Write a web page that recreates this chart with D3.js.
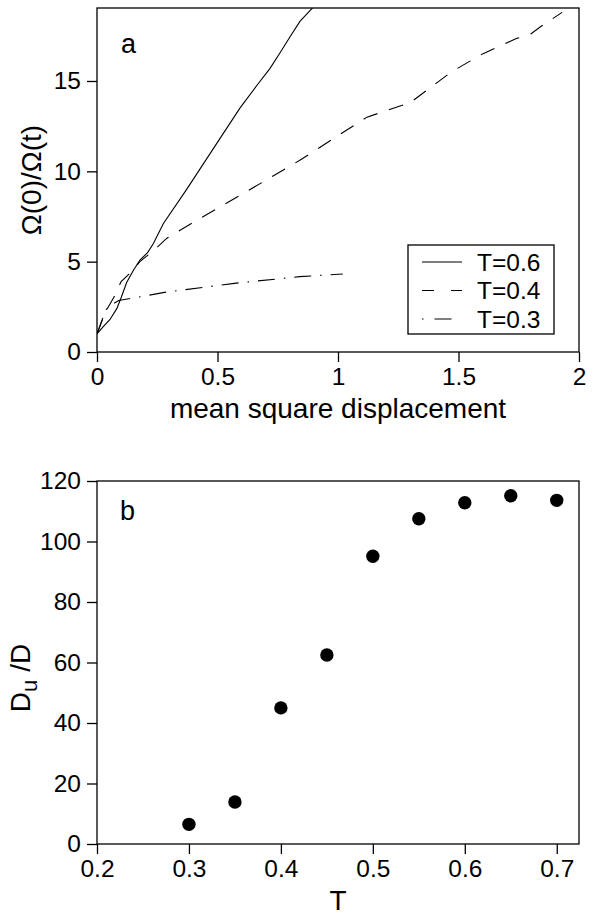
<!DOCTYPE html>
<html><head><meta charset="utf-8">
<script src="https://cdn.jsdelivr.net/npm/d3@7"></script>
<style>
html,body{margin:0;padding:0;background:#fff;}
text{font-family:"Liberation Sans",Arial,Helvetica,sans-serif;fill:#000;}
</style></head>
<body>
<svg id="c" width="600" height="917"></svg>
<script>
// ---- data: panel a ----
const seriesA = ["T=0.6", "T=0.4", "T=0.3"];
const msd06 = [0,0.026,0.054,0.082,0.10,0.123,0.15,0.178,0.21,0.234,0.275,0.372,0.497,0.593,0.663,0.718,0.759,0.801,0.842,0.898];
const om06  = [1,1.4,1.8,2.4,3.0,3.85,4.5,5.09,5.5,6.0,7.1,9.0,11.55,13.5,14.75,15.7,16.55,17.45,18.3,19.1];
const msd04 = [0,0.03,0.075,0.10,0.144,0.178,0.234,0.29,0.39,0.5,0.7,0.84,0.98,1.12,1.3,1.4,1.47,1.6,1.74,1.8,1.84,1.93];
const om04  = [1,2.1,3.15,3.9,4.45,5.0,5.6,6.3,7.1,7.95,9.5,10.6,11.8,13.0,13.8,14.8,15.5,16.5,17.35,17.6,18.0,18.8];
const msd03 = [0,0.02,0.033,0.06,0.09,0.18,0.28,0.57,0.84,1.02];
const om03  = [1,1.7,2.3,2.6,2.85,3.06,3.3,3.8,4.17,4.32];
const xTicksA = [0,0.5,1,1.5,2];
const yTicksA = [0,5,10,15];
// ---- data: panel b ----
const temps = [0.3,0.35,0.4,0.45,0.5,0.55,0.6,0.65,0.7];
const ratio = [6.5,13.9,45,62.5,95.1,107.5,112.8,115.1,113.6];
const xTicksB = [0.2,0.3,0.4,0.5,0.6,0.7];
const yTicksB = [0,20,40,60,80,100,120];

const svg = d3.select("#c");
const L = 97, R = 579;
const tickFont = 24.5, labFont = 28;

function frame(g, x, y, top, bottom, xt, yt, xfmt) {
  const xa = g.append("g").attr("transform", `translate(0,${bottom})`)
    .call(d3.axisBottom(x).tickValues(xt).tickSize(10).tickPadding(6).tickFormat(xfmt));
  const ya = g.append("g").attr("transform", `translate(${L},0)`)
    .call(d3.axisLeft(y).tickValues(yt).tickSize(10).tickPadding(6).tickFormat(d3.format("d")));
  [xa, ya].forEach(a => {
    a.select(".domain").remove();
    a.selectAll("line").attr("stroke", "#000").attr("stroke-width", 1.3);
    a.selectAll("text").attr("font-size", tickFont).attr("font-family", '"Liberation Sans",Arial,sans-serif').attr("fill", "#000");
  });
  g.append("rect").attr("x", L).attr("y", top).attr("width", R - L).attr("height", bottom - top)
    .attr("fill", "none").attr("stroke", "#000").attr("stroke-width", 1.3);
}

// ---- panel a ----
const topA = 8, botA = 352;
const xA = d3.scaleLinear().domain([0, 2]).range([L, R]);
const yA = d3.scaleLinear().domain([0, 19.04]).range([botA, topA]);
const gA = svg.append("g");
svg.append("defs").append("clipPath").attr("id", "clipA")
  .append("rect").attr("x", L).attr("y", topA).attr("width", R - L).attr("height", botA - topA);
const fmtA = d => d === 0 ? "0" : d3.format("~g")(d);
frame(gA, xA, yA, topA, botA, xTicksA, yTicksA, fmtA);

const dashes = ["none", "15,12", "17,9,1.5,9"];
const curves = [[msd06, om06], [msd04, om04], [msd03, om03]];
const line = d3.line().x(d => xA(d[0])).y(d => yA(d[1]));
curves.forEach((c, i) => {
  const pts = c[0].map((v, j) => [v, c[1][j]]);
  gA.append("path").attr("d", line(pts)).attr("clip-path", "url(#clipA)")
    .attr("fill", "none").attr("stroke", "#000").attr("stroke-width", 1.1)
    .attr("stroke-dasharray", dashes[i]);
});

// legend
const lg = gA.append("g");
lg.append("rect").attr("x", 408).attr("y", 245).attr("width", 146).attr("height", 89)
  .attr("fill", "#fff").attr("stroke", "#000").attr("stroke-width", 1.3);
const legDash = ["none", "12,17", "1.5,11,17,11"];
seriesA.forEach((s, i) => {
  const yy = 262 + i * 28.5;
  lg.append("line").attr("x1", 422).attr("x2", 462).attr("y1", yy).attr("y2", yy)
    .attr("stroke", "#000").attr("stroke-width", 1.1).attr("stroke-dasharray", legDash[i]);
  lg.append("text").attr("x", 477).attr("y", yy + 8.5).attr("font-size", tickFont).text(s);
});

gA.append("text").attr("x", 121).attr("y", 53).attr("font-size", 27).text("a");
gA.append("text").attr("transform", "translate(41,180) rotate(-90)").attr("text-anchor", "middle")
  .attr("font-size", labFont).text("Ω(0)/Ω(t)");
gA.append("text").attr("x", 338).attr("y", 418).attr("text-anchor", "middle")
  .attr("font-size", labFont).text("mean square displacement");

// ---- panel b ----
const topB = 481, botB = 844;
const xB = d3.scaleLinear().domain([0.2, 0.7242]).range([L, R]);
const yB = d3.scaleLinear().domain([0, 120]).range([botB, topB]);
const gB = svg.append("g");
frame(gB, xB, yB, topB, botB, xTicksB, yTicksB, d3.format(".1f"));
gB.selectAll("circle.pt").data(temps).enter().append("circle").attr("class", "pt")
  .attr("cx", (d) => xB(d)).attr("cy", (d, i) => yB(ratio[i])).attr("r", 6.7).attr("fill", "#000");

gB.append("text").attr("x", 120).attr("y", 520).attr("font-size", 27).text("b");
const dl = gB.append("text").attr("transform", "translate(30,678) rotate(-90)").attr("text-anchor", "middle")
  .attr("font-size", labFont);
dl.append("tspan").text("D");
dl.append("tspan").attr("font-size", 22).attr("dy", 7).text("u");
dl.append("tspan").attr("dy", -7).text(" /D");
gB.append("text").attr("x", 338).attr("y", 910).attr("text-anchor", "middle")
  .attr("font-size", labFont).text("T");
</script>
</body></html>
